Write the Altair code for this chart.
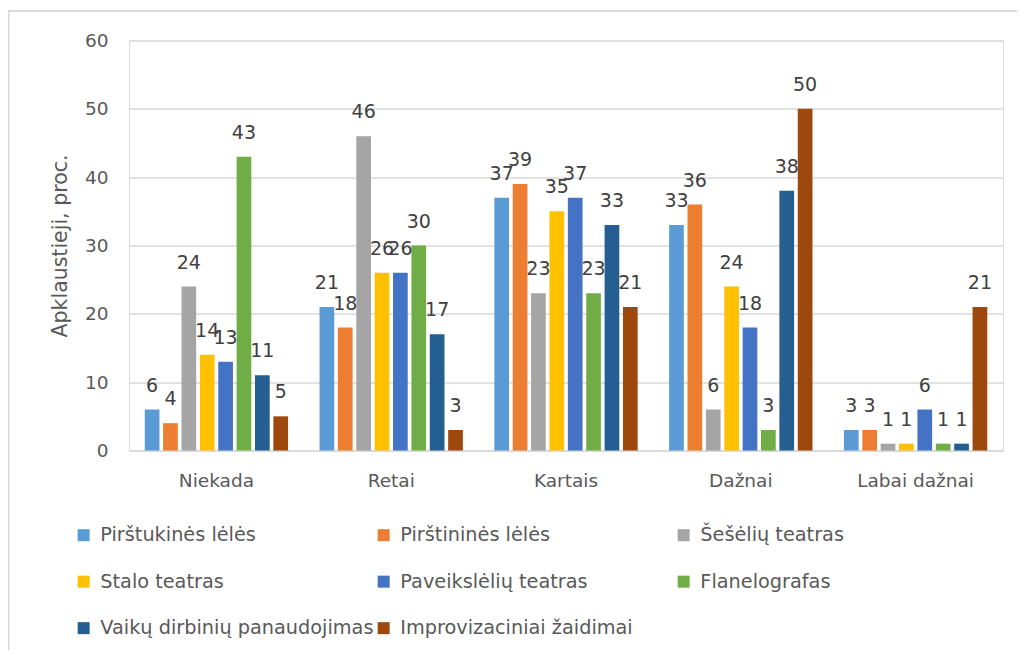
import altair as alt
import pandas as pd

categories = ["Niekada", "Retai", "Kartais", "Dažnai", "Labai dažnai"]
series = [
    "Pirštukinės lėlės",
    "Pirštininės lėlės",
    "Šešėlių teatras",
    "Stalo teatras",
    "Paveikslėlių teatras",
    "Flanelografas",
    "Vaikų dirbinių panaudojimas",
    "Improvizaciniai žaidimai",
]
colors = ["#5B9BD5", "#ED7D31", "#A5A5A5", "#FFC000", "#4472C4", "#70AD47", "#255E91", "#9E480E"]

values = {
    "Pirštukinės lėlės": [6, 21, 37, 33, 3],
    "Pirštininės lėlės": [4, 18, 39, 36, 3],
    "Šešėlių teatras": [24, 46, 23, 6, 1],
    "Stalo teatras": [14, 26, 35, 24, 1],
    "Paveikslėlių teatras": [13, 26, 37, 18, 6],
    "Flanelografas": [43, 30, 23, 3, 1],
    "Vaikų dirbinių panaudojimas": [11, 17, 33, 38, 1],
    "Improvizaciniai žaidimai": [5, 3, 21, 50, 21],
}

rows = []
for s in series:
    for c, v in zip(categories, values[s]):
        rows.append({"cat": c, "series": s, "value": v})
df = pd.DataFrame(rows)

FONT = "DejaVu Sans"
TXT = "#595959"
W, H = 874, 410

x_enc = alt.X("cat:N", sort=categories, title=None,
              scale=alt.Scale(paddingInner=0.18, paddingOuter=0.09),
              axis=alt.Axis(labelAngle=0, labelFontSize=18.5, labelColor=TXT,
                            labelPadding=21, ticks=False, domainColor="#d9d9d9",
                            domainWidth=1.5, labelFont=FONT))
xo_enc = alt.XOffset("series:N", sort=series,
                     scale=alt.Scale(paddingInner=0.2, paddingOuter=0))
y_enc = alt.Y("value:Q", scale=alt.Scale(domain=[0, 60]),
              title="Apklaustieji, proc.",
              axis=alt.Axis(values=[0, 10, 20, 30, 40, 50, 60], labelFontSize=18.5,
                            labelColor=TXT, labelPadding=21, ticks=False,
                            domain=False, gridColor="#d9d9d9", gridWidth=1.5,
                            titleFontSize=20.5, titleColor=TXT, titleFontWeight="normal",
                            titlePadding=14, labelFont=FONT, titleFont=FONT))

bars = alt.Chart(df).mark_bar().encode(
    x=x_enc,
    xOffset=xo_enc,
    y=y_enc,
    color=alt.Color("series:N", sort=series,
                    scale=alt.Scale(domain=series, range=colors),
                    legend=alt.Legend(title=None, orient="none", legendX=-55, legendY=485,
                                      direction="horizontal", columns=3, gridAlign="all",
                                      columnPadding=0, rowPadding=26.5,
                                      symbolType="square", symbolSize=144,
                                      symbolStrokeWidth=0, labelFontSize=19.3,
                                      labelColor=TXT, labelLimit=400,
                                      labelFont=FONT, padding=0, labelOffset=7)),
)

labels = alt.Chart(df).mark_text(baseline="alphabetic", dy=-18, fontSize=19,
                                 color="#404040", font=FONT).encode(
    x=alt.X("cat:N", sort=categories),
    xOffset=alt.XOffset("series:N", sort=series),
    y="value:Q",
    text="value:Q",
)

border = alt.Chart(pd.DataFrame({"a": [0]})).mark_rect(
    fill=None, stroke="#d9d9d9", strokeWidth=2
).encode(x=alt.value(-120.5), x2=alt.value(1100), y=alt.value(-29.5), y2=alt.value(800))

chart = alt.layer(border, bars, labels).properties(
    width=W, height=H,
    autosize=alt.AutoSizeParams(type="none"),
    padding={"left": 121, "top": 32.5, "right": 14, "bottom": 199},
).configure_view(stroke=None).configure(background="white")

chart.save("out.html", embed_options={"renderer": "svg", "actions": False})
